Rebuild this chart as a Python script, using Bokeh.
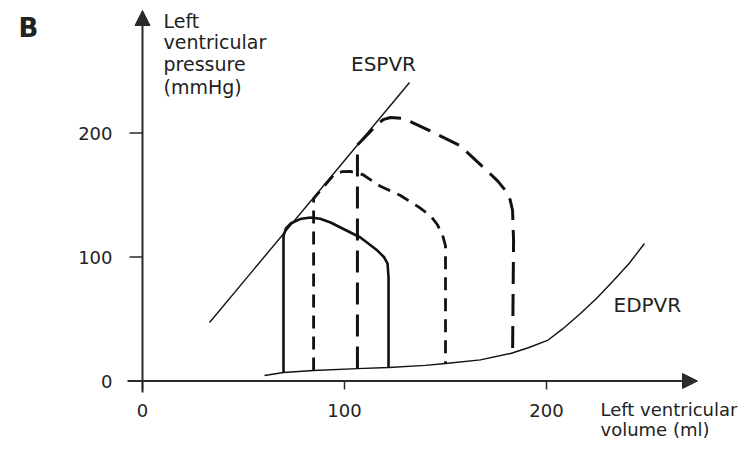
from bokeh.plotting import figure
from bokeh.models import Range1d, Label, Arrow, NormalHead
from bokeh.embed import file_html
from bokeh.resources import INLINE

# ---- data ----
x_ticks = [0, 100, 200]
y_ticks = [0, 100, 200]

espvr_v = [33.2, 132.2]
espvr_p = [47.2, 240.7]

edpvr_v = [60.4, 69.8, 84.7, 106.4, 121.8, 140.0, 150.0, 167.3, 182.2, 191.0, 200.5, 208.0,
           216.8, 225.0, 233.2, 241.0, 248.5]
edpvr_p = [4.4, 6.9, 8.5, 10.0, 10.9, 12.6, 14.1, 17.0, 22.2, 26.8, 32.7, 42.0,
           54.4, 67.0, 81.0, 95.0, 110.9]

solid_v = [69.8, 69.8, 71.0, 73.3, 78.0, 83.2, 88.0, 93.1, 107.9, 116.3, 119.5, 121.3, 121.8, 121.8]
solid_p = [6.9, 117.0, 123.0, 127.0, 130.6, 131.9, 130.8, 127.8, 115.7, 105.2, 100.0, 94.8, 83.5, 10.9]

mid_v = [84.7, 84.7, 95.0, 99.0, 103.0, 109.0, 117.8, 127.7, 137.0, 143.0, 146.0, 148.5, 150.0, 150.0]
mid_p = [8.5, 147.0, 167.0, 168.8, 169.0, 166.5, 157.0, 149.6, 140.0, 132.5, 126.0, 118.0, 109.0, 14.1]

big_v = [106.4, 106.4, 116.8, 119.5, 122.8, 129.2, 140.0, 157.0, 171.0, 176.0, 179.7, 182.0, 183.2, 183.7, 183.2]
big_p = [10.0, 190.4, 208.0, 211.0, 212.5, 211.7, 203.6, 190.0, 168.9, 161.0, 153.6, 146.0, 137.5, 113.0, 22.2]

# ---- layout helpers (picture pixel -> data) ----
X0, SX = 142.0, 2.02
Y0, SY = 380.5, 1.24
def dx(px):
    return (px - X0) / SX
def dy(py):
    return (Y0 - py) / SY

W, H = 745, 443
p = figure(width=W, height=H, output_backend="svg", toolbar_location=None,
           x_range=Range1d(dx(0), dx(W)), y_range=Range1d(dy(H), dy(0)),
           min_border=0, outline_line_color=None)
p.axis.visible = False
p.grid.visible = False
p.background_fill_color = "white"

AX = "#2a2a2a"
LC = "#111111"
TC = "#222222"
FONT = "DejaVu Sans"

# axes with arrows
p.add_layout(Arrow(end=NormalHead(size=15, fill_color=AX, line_color=AX, line_width=1),
                   x_start=dx(127), y_start=0, x_end=dx(697), y_end=0,
                   line_color=AX, line_width=2))
p.add_layout(Arrow(end=NormalHead(size=15, fill_color=AX, line_color=AX, line_width=1),
                   x_start=0, y_start=dy(392), x_end=0, y_end=dy(10),
                   line_color=AX, line_width=2))

# tick marks
p.segment(x0=x_ticks, y0=[0] * len(x_ticks), x1=x_ticks, y1=[dy(389)] * len(x_ticks),
          line_color=AX, line_width=1.5)
p.segment(x0=[dx(129)] * len(y_ticks), y0=y_ticks, x1=[0] * len(y_ticks), y1=y_ticks,
          line_color=AX, line_width=1.5)

# tick labels
for t in x_ticks:
    p.add_layout(Label(x=t, y=dy(403), text=str(t), text_align="center", text_baseline="top",
                       text_font=FONT, text_font_size="18px", text_color=TC))
for t in y_ticks:
    p.add_layout(Label(x=dx(112), y=t, text=str(t), text_align="right", text_baseline="middle",
                       text_font=FONT, text_font_size="18px", text_color=TC))

# ESPVR / EDPVR
p.line(espvr_v, espvr_p, line_color=LC, line_width=1.4)
p.line(edpvr_v, edpvr_p, line_color=LC, line_width=1.4)

# loops
p.line(solid_v, solid_p, line_color=LC, line_width=2.6, line_join="round")
p.line(mid_v, mid_p, line_color=LC, line_width=2.8, line_dash="13 8", line_join="round")
p.line(big_v, big_p, line_color=LC, line_width=3.0, line_dash="22 10", line_join="round")

# texts (alphabetic baselines render ~8px low, so positions are compensated)
p.add_layout(Label(x=dx(18), y=dy(27), text="B", text_font=FONT, text_font_size="26px",
                   text_font_style="bold", text_color=TC, text_baseline="alphabetic"))
ylab = ["Left", "ventricular", "pressure", "(mmHg)"]
ybase = [20, 41, 63, 86]
for s, b in zip(ylab, ybase):
    p.add_layout(Label(x=dx(163), y=dy(b), text=s, text_font=FONT, text_font_size="19px",
                       text_color=TC, text_baseline="alphabetic"))
p.add_layout(Label(x=dx(600), y=dy(409), text="Left ventricular", text_font=FONT,
                   text_font_size="18px", text_color=TC, text_baseline="alphabetic"))
p.add_layout(Label(x=dx(600), y=dy(429), text="volume (ml)", text_font=FONT,
                   text_font_size="18px", text_color=TC, text_baseline="alphabetic"))
p.add_layout(Label(x=dx(383), y=dy(63), text="ESPVR", text_font=FONT, text_font_size="20px",
                   text_color=TC, text_align="center", text_baseline="alphabetic"))
p.add_layout(Label(x=dx(613), y=dy(304), text="EDPVR", text_font=FONT, text_font_size="20px",
                   text_color=TC, text_baseline="alphabetic"))

open("out.html", "w").write(file_html(p, INLINE))
